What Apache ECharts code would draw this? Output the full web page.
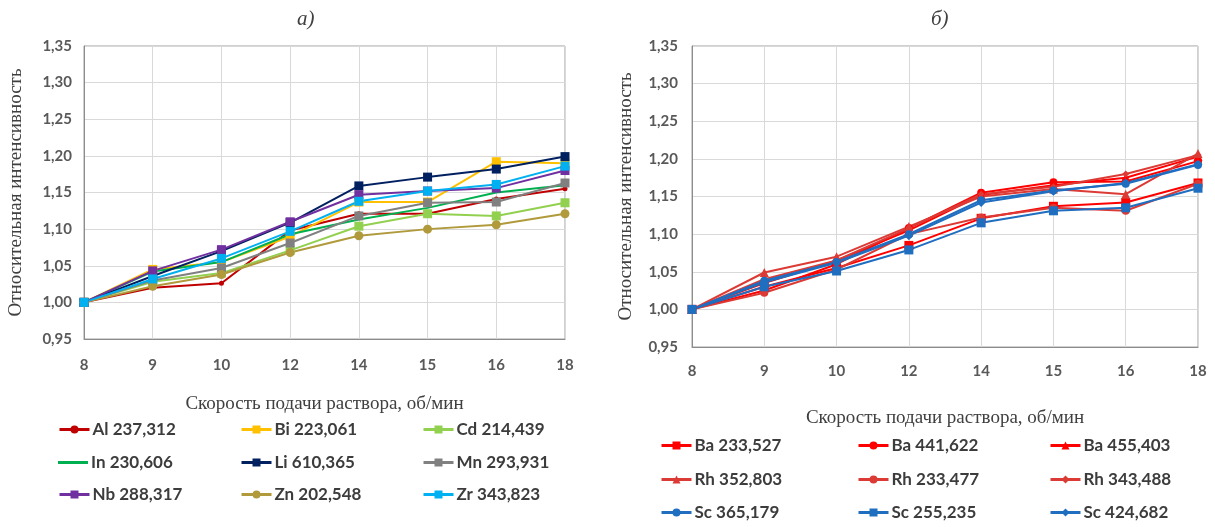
<!DOCTYPE html>
<html><head><meta charset="utf-8">
<script src="https://cdn.jsdelivr.net/npm/echarts@6/dist/echarts.min.js"></script>
<style>html,body{margin:0;padding:0;background:#fff}#c{width:1215px;height:527px}</style>
</head><body><div id="c"></div>
<script>
const categories = ['8','9','10','12','14','15','16','18'];
// Chart a)
const al  = [1.000,1.020,1.026,1.098,1.121,1.121,1.141,1.155];
const bi  = [1.000,1.045,1.055,1.090,1.137,1.137,1.192,1.190];
const cd  = [1.000,1.028,1.040,1.071,1.104,1.121,1.118,1.136];
const inn = [1.000,1.042,1.055,1.093,1.113,1.129,1.150,1.160];
const li  = [1.000,1.036,1.070,1.109,1.159,1.171,1.182,1.199];
const mn  = [1.000,1.030,1.047,1.081,1.118,1.136,1.137,1.163];
const nb  = [1.000,1.043,1.072,1.110,1.147,1.152,1.156,1.180];
const zn  = [1.000,1.022,1.038,1.068,1.091,1.100,1.106,1.121];
const zr  = [1.000,1.032,1.060,1.097,1.138,1.152,1.161,1.186];
// Chart б)
const ba233 = [1.000,1.030,1.055,1.085,1.121,1.137,1.142,1.168];
const ba441 = [1.000,1.025,1.060,1.108,1.155,1.169,1.170,1.197];
const ba455 = [1.000,1.035,1.065,1.105,1.152,1.165,1.175,1.203];
const rh352 = [1.000,1.049,1.070,1.110,1.150,1.160,1.153,1.207];
const rh233 = [1.000,1.022,1.053,1.100,1.122,1.135,1.131,1.167];
const rh343 = [1.000,1.040,1.065,1.108,1.153,1.163,1.180,1.205];
const sc365 = [1.000,1.038,1.063,1.100,1.145,1.158,1.167,1.192];
const sc255 = [1.000,1.030,1.051,1.079,1.115,1.131,1.135,1.161];
const sc424 = [1.000,1.036,1.062,1.098,1.142,1.157,1.168,1.193];

const yMin = 0.95, yMax = 1.35, yStep = 0.05;
const xName = 'Скорость подачи раствора, об/мин';
const yName = 'Относительная интенсивность';

const leftSeries = [
  ['Al 237,312', al, '#C00000', 'circle', 5],
  ['Bi 223,061', bi, '#FFC000', 'rect', 9],
  ['Cd 214,439', cd, '#92D050', 'rect', 9],
  ['In 230,606', inn, '#00B050', 'none', 0],
  ['Li 610,365', li, '#002060', 'rect', 9],
  ['Mn 293,931', mn, '#808080', 'rect', 9],
  ['Nb 288,317', nb, '#7030A0', 'rect', 9],
  ['Zn 202,548', zn, '#B09A3C', 'circle', 9],
  ['Zr 343,823', zr, '#00B0F0', 'rect', 9]
];
const RED = '#FF0000', RH = '#DC3A35', SC = '#1F6EC0';
const rightSeries = [
  ['Ba 233,527', ba233, RED, 'rect', 9],
  ['Ba 441,622', ba441, RED, 'circle', 8],
  ['Ba 455,403', ba455, RED, 'triangle', 9],
  ['Rh 352,803', rh352, RH, 'triangle', 9],
  ['Rh 233,477', rh233, RH, 'circle', 8],
  ['Rh 343,488', rh343, RH, 'diamond', 7],
  ['Sc 365,179', sc365, SC, 'circle', 8],
  ['Sc 255,235', sc255, SC, 'rect', 9],
  ['Sc 424,682', sc424, SC, 'diamond', 9]
];

function mkSeries(list, idx) {
  return list.map(s => ({
    name: s[0], type: 'line', data: s[1], xAxisIndex: idx, yAxisIndex: idx,
    symbol: s[3], symbolSize: s[4], showSymbol: s[3] !== 'none',
    lineStyle: { color: s[2], width: 2 }, itemStyle: { color: s[2] },
    animation: false
  }));
}

const tickFont = { fontFamily: 'Lato', fontWeight: 'bold', fontSize: 15, color: '#595959' };
const nameFont = { fontFamily: 'Liberation Serif', fontSize: 19, color: '#404040' };

function xAx(gi, margin, gap) {
  return {
    type: 'category', gridIndex: gi, data: categories, boundaryGap: false,
    axisLine: { lineStyle: { color: '#8c8c8c' } }, axisTick: { show: false },
    axisLabel: Object.assign({ margin: margin }, tickFont),
    splitLine: { show: true, lineStyle: { color: '#d9d9d9' } },
    name: xName, nameLocation: 'middle', nameGap: gap, nameTextStyle: nameFont
  };
}
function yAx(gi, margin, gap) {
  return {
    type: 'value', gridIndex: gi, min: yMin, max: yMax, interval: yStep,
    axisLine: { show: true, lineStyle: { color: '#8c8c8c' } }, axisTick: { show: false },
    axisLabel: Object.assign({ margin: margin, formatter: v => v.toFixed(2).replace('.', ',') }, tickFont),
    splitLine: { show: true, lineStyle: { color: '#d9d9d9' } },
    name: yName, nameLocation: 'middle', nameGap: gap, nameTextStyle: nameFont
  };
}

function legendRows(list, lefts, tops) {
  const out = [];
  for (let r = 0; r < 3; r++) {
    for (let c = 0; c < 3; c++) {
      const s = list[r * 3 + c];
      const plain = s[3] === 'none';
      out.push({
        data: [plain ? { name: s[0], icon: 'rect' } : s[0]], left: lefts[c], top: tops[r],
        itemWidth: 30, itemHeight: plain ? 3 : 10, itemGap: 4,
        lineStyle: { width: 3 },
        textStyle: { fontFamily: 'Lato', fontWeight: 'bold', fontSize: 17, color: '#3c3c3c', padding: [0, 0, 0, -2] }
      });
    }
  }
  return out;
}

const chart = echarts.init(document.getElementById('c'), null, { renderer: 'canvas' });
chart.setOption({
  animation: false,
  title: [
    { text: 'а)', left: 292, top: 4, textStyle: { fontFamily: 'Liberation Serif', fontStyle: 'italic', fontWeight: 'normal', fontSize: 21, color: '#404040' } },
    { text: 'б)', left: 926, top: 4, textStyle: { fontFamily: 'Liberation Serif', fontStyle: 'italic', fontWeight: 'normal', fontSize: 21, color: '#404040' } }
  ],
  grid: [
    { left: 84, right: 650, top: 46, bottom: 188, show: true, borderColor: '#a0a0a0', borderWidth: 1 },
    { left: 692, right: 17, top: 46, bottom: 180, show: true, borderColor: '#a0a0a0', borderWidth: 1 }
  ],
  xAxis: [xAx(0, 19, 56), xAx(1, 17, 62)],
  yAxis: [yAx(0, 12, 58), yAx(1, 14, 56)],
  legend: legendRows(leftSeries, [53, 235, 417], [416, 449, 481])
    .concat(legendRows(rightSeries, [655, 852, 1044], [432, 466, 499])),
  series: mkSeries(leftSeries, 0).concat(mkSeries(rightSeries, 1))
});
</script></body></html>
